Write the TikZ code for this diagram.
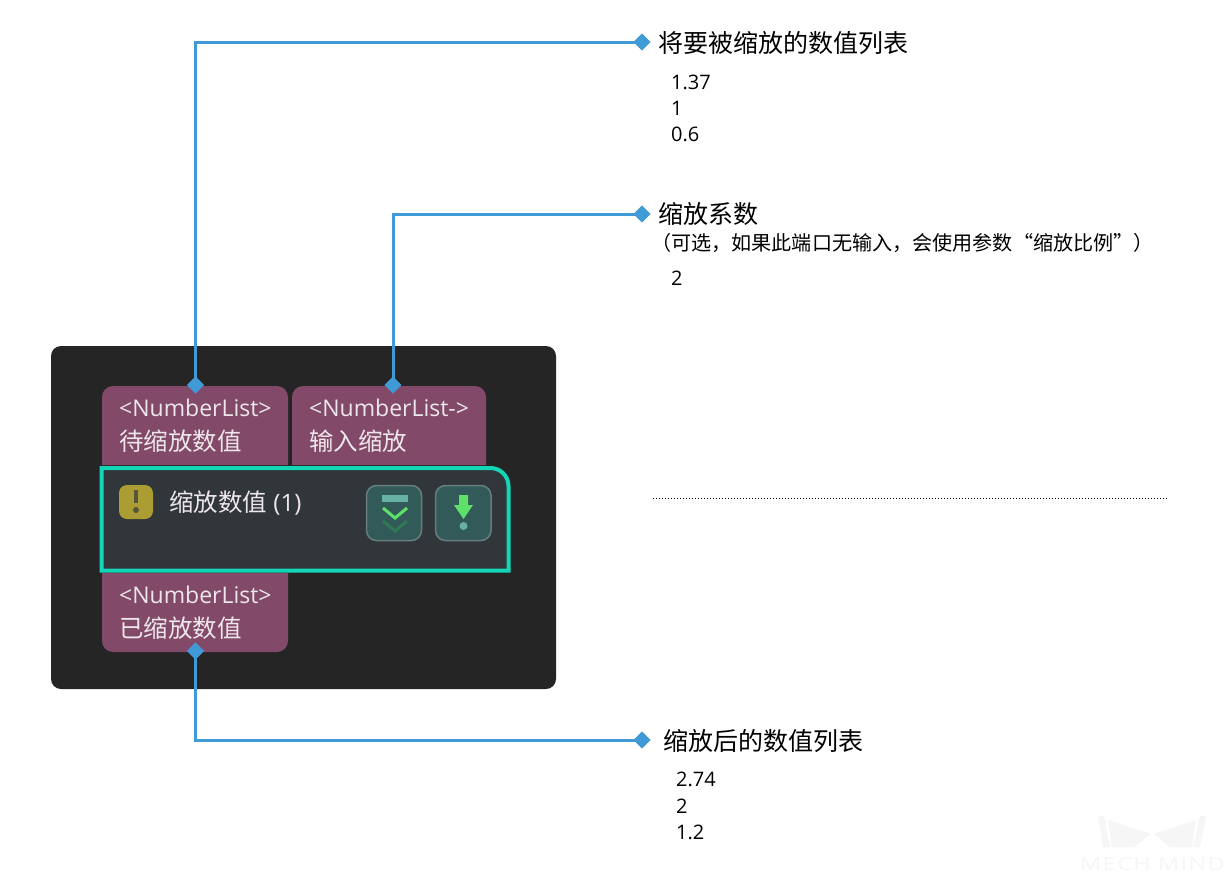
\documentclass[tikz,border=0pt]{standalone}
\usepackage{fontspec}
\setmainfont{Open Sans}
\newfontfamily\cjk{Noto Sans CJK SC}
\usetikzlibrary{shapes.geometric}
\definecolor{panelc}{HTML}{252525}
\definecolor{portc}{HTML}{824A68}
\definecolor{mainc}{HTML}{30363A}
\definecolor{tealc}{HTML}{12D6B6}
\definecolor{linkc}{HTML}{3F9AD6}
\definecolor{btnc}{HTML}{325A59}
\definecolor{btnb}{HTML}{667E7D}
\definecolor{softg}{HTML}{67B0A5}
\definecolor{brightg}{HTML}{5FE068}
\definecolor{darkg}{HTML}{2F7A55}
\definecolor{warnc}{HTML}{AB9D33}
\definecolor{wmc}{HTML}{F6F6F6}
\definecolor{txtw}{HTML}{EDE6EA}
\tikzset{
  x=1pt,y=-1pt,
  port/.style={diamond,fill=linkc,draw=none,minimum width=17pt,minimum height=17pt,inner sep=0pt},
  free/.style={port},
  link/.style={draw=linkc,line width=3pt},
  porttxt/.style={anchor=base west,inner sep=0pt,text=txtw,font=\fontsize{23}{26}\selectfont},
  portcn/.style={anchor=base west,inner sep=0pt,text=txtw,font=\cjk\fontsize{24.5}{28}\selectfont},
  head/.style={anchor=base west,inner sep=0pt,text=black,font=\cjk\fontsize{25}{30}\selectfont},
  note/.style={anchor=base west,inner sep=0pt,text=black,font=\cjk\fontsize{20.1}{24}\selectfont},
  val/.style={anchor=base west,inner sep=0pt,text=black,font=\fontsize{20}{24}\selectfont},
  btn/.style={draw=btnb,fill=btnc,line width=1.5pt,rounded corners=10pt},
}
\begin{document}
\begin{tikzpicture}
\useasboundingbox (0,0) rectangle (1227,873);
\fill[white] (0,0) rectangle (1227,873);
% watermark
\fill[wmc] (1098,816) -- (1104,816) -- (1110,847) -- (1103,847) -- cycle;
\fill[wmc] (1108,820) -- (1151,834) -- (1134,847) -- (1112,847) -- cycle;
\fill[wmc] (1206,816) -- (1200,816) -- (1193,847) -- (1200,847) -- cycle;
\fill[wmc] (1196,820) -- (1154,834) -- (1170,847) -- (1192,847) -- cycle;
\node[anchor=base west,inner sep=0pt,text=wmc,font=\fontsize{18}{20}\selectfont\addfontfeature{LetterSpace=6}] (wm) at (1080,870) {\scalebox{1.3}[1]{MECH MIND}};
% panel
\fill[panelc,rounded corners=10pt] (51,346) rectangle (556,689);
% ports
\fill[portc] (102,465) [rounded corners=11pt] -- (102,386) -- (288,386) [sharp corners] -- (288,465) -- cycle;
\fill[portc] (292,465) [rounded corners=11pt] -- (292,386) -- (486,386) [sharp corners] -- (486,465) -- cycle;
\fill[portc] (102,573) -- (288,573) [rounded corners=11pt] -- (288,652) -- (102,652) [sharp corners] -- cycle;
% main block
\path[fill=mainc,draw=tealc,line width=4pt] (101.5,468) -- (490,468) [rounded corners=18pt] -- (508.5,468) [sharp corners] -- (508.5,570.5) -- (101.5,570.5) -- cycle;
% warning icon
\fill[warnc,rounded corners=8pt] (119,485) rectangle (153,519);
\fill[mainc!70!warnc] (134,490) rectangle (138,503);
\fill[mainc!70!warnc] (136,510) circle (3pt);
% buttons
\path[btn] (366.5,485.5) rectangle (421.5,540.5);
\path[btn] (435.5,485.5) rectangle (491,540.5);
\fill[softg] (382,495) rectangle (408,502);
\draw[brightg,line width=3pt] (383,508) -- (395,518) -- (407,508);
\draw[darkg,line width=3pt] (383,521) -- (395,531) -- (407,521);
\fill[brightg] (459,495) -- (468,495) -- (468,505) -- (473,505) -- (463.5,519) -- (454,505) -- (459,505) -- cycle;
\fill[softg] (463.5,526) circle (4pt);
% block texts
\node[porttxt] (p1a) at (119,416) {<NumberList>};
\node[portcn] (p1b) at (119,450) {待缩放数值};
\node[porttxt] (p2a) at (309,416) {<NumberList->};
\node[portcn] (p2b) at (309,450) {输入缩放};
\node[porttxt] (p3a) at (119,603) {<NumberList>};
\node[portcn] (p3b) at (119,637) {已缩放数值};
\node[anchor=base west,inner sep=0pt,text=txtw,font=\fontsize{24}{26}\selectfont] (title) at (169,511) {{\cjk\fontsize{24.5}{28}\selectfont 缩放数值} (1)};
% connector ends
\node[port] (a1) at (195.5,385) {};
\node[port] (a2) at (393,385) {};
\node[port] (a3) at (195.5,651) {};
\node[free] (b1) at (642,42) {};
\node[free] (b2) at (642,214) {};
\node[free] (b3) at (642,740) {};
\draw[link] (a1.center) |- (b1.center);
\draw[link] (a2.center) |- (b2.center);
\draw[link] (a3.center) |- (b3.center);
\node[port] at (a1) {};
\node[port] at (a2) {};
\node[port] at (a3) {};
\node[free] at (b1) {};
\node[free] at (b2) {};
\node[free] at (b3) {};
% right texts
\node[head] (h1) at (658,52) {将要被缩放的数值列表};
\node[val] (v11) at (671,89) {1.37};
\node[val] (v12) at (671,115) {1};
\node[val] (v13) at (671,141) {0.6};
\node[head] (h2) at (658,223) {缩放系数};
\node[note] (n2) at (651,250) {（可选，如果此端口无输入，会使用参数“缩放比例”）};
\node[val] (v21) at (671,285) {2};
\draw[black,line width=1pt,dotted] (653,498) -- (1167,498);
\node[head] (h3) at (663,750) {缩放后的数值列表};
\node[val] (v31) at (676,786) {2.74};
\node[val] (v32) at (676,813) {2};
\node[val] (v33) at (676,839) {1.2};
\end{tikzpicture}
\end{document}
